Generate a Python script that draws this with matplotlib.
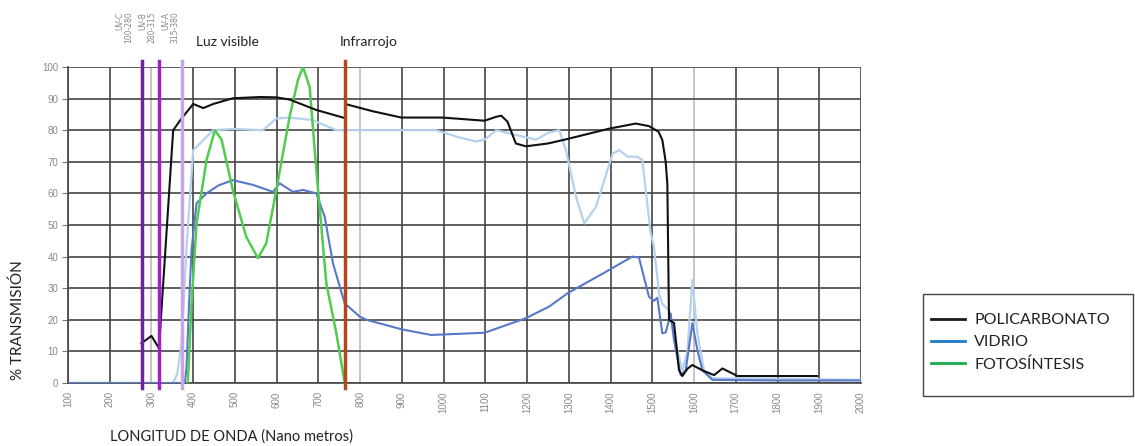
import matplotlib
matplotlib.use('Agg')
import matplotlib.pyplot as plt
from matplotlib.lines import Line2D
from matplotlib.patches import Rectangle
import numpy as np

# datos (nm, % transmisión)
poli_nm_a = [276, 300, 318, 352, 372, 400, 424, 448, 495, 560, 599, 631, 695, 759]
poli_pc_a = [12.6, 14.9, 11, 80, 83.7, 88.3, 87, 88.3, 90.1, 90.5, 90.4, 89.7, 86.4, 84]
poli_nm_b = [767, 830, 899, 997, 1098, 1125, 1138, 1153, 1173, 1197, 1250, 1293, 1397, 1460, 1492,
             1515, 1524, 1532, 1536, 1540, 1552, 1564, 1572, 1584, 1596, 1620, 1648, 1668, 1704, 1800, 1895]
poli_pc_b = [88.2, 86, 84, 84, 83, 84.2, 84.6, 82.7, 75.8, 74.9, 75.8, 77.1, 80.5, 82.1, 81.3,
             79.5, 76.9, 70, 63, 20, 19, 4, 2.2, 4.5, 5.7, 4, 2.5, 4.6, 2.2, 2.2, 2.2]

vidrio_nm = [100, 380, 384, 390, 396, 408, 432, 460, 495, 543, 591, 607, 639, 663, 695, 715, 735, 763, 799, 815,
             899, 970, 1098, 1197, 1253, 1297, 1397, 1452, 1468, 1492, 1504, 1512, 1524, 1532, 1544, 1552,
             1568, 1580, 1596, 1608, 1620, 1644, 1800, 2000]
vidrio_pc = [0, 0, 5, 25, 42, 56.9, 60, 62.5, 64.2, 62.7, 60.5, 63.2, 60.5, 61.1, 60, 52.6, 37.8, 25.2, 21, 20,
             17, 15.2, 15.9, 20.5, 24.2, 28.4, 35.8, 40, 39.7, 27.3, 26, 27, 15.7, 16, 22, 13.6,
             2.5, 4, 18.9, 10.4, 4, 1, 0.8, 0.8]

vidrio2_nm = [100, 352, 362, 372, 385, 400, 416, 448, 495, 567, 599, 631, 686, 743, 866, 982, 1038, 1078, 1098,
              1126, 1173, 1221, 1253, 1277, 1293, 1317, 1337, 1365, 1405, 1421, 1441, 1464, 1476, 1496, 1504,
              1516, 1524, 1540, 1556, 1572, 1584, 1596, 1608, 1624, 1644, 2000]
vidrio2_pc = [0, 0, 3, 12.5, 45, 73.7, 75.8, 80, 80.4, 80, 83.7, 84, 83.2, 80, 80, 80, 77.7, 76.4, 77,
              80, 78.5, 77, 79.3, 80, 73.7, 59, 50.5, 55.8, 72.6, 73.7, 71.6, 71.6, 70.6, 47.4, 43.2,
              28.4, 25, 23, 12.5, 4, 10, 32.6, 15.7, 4, 1.5, 1]

foto_nm = [387, 396, 408, 432, 452, 468, 495, 527, 555, 575, 599, 631, 651, 663, 679, 695, 719, 743, 763]
foto_pc = [0, 25, 50.5, 70.6, 80, 77, 61, 46.3, 39.5, 44.2, 61, 84.3, 95.9, 100, 93.7, 67.4, 31.5, 15.7, 0]

bandas_nm = [278, 317, 374, 763]
bandas_col = ['#6f1fa0', '#a21fc8', '#c8a6e6', '#b4461c']
uv_textos = ['UV-C\n100-280', 'UV-B\n280-315', 'UV-A\n315-380']
uv_nm = [234, 291, 346]

series_nombres = ['POLICARBONATO', 'VIDRIO', 'FOTOSÍNTESIS']
series_col_leyenda = ['#1a1a1a', '#1f7bc8', '#1aaa4a']

fuente = {'family': 'Lato', 'color': '#222222'}

fig = plt.figure(figsize=(11.35, 4.46), dpi=100)
ax = fig.add_axes([68 / 1135, 1 - 383 / 446, (861 - 68) / 1135, (383 - 67) / 446])
ax.set_xlim(100, 2000)
ax.set_ylim(0, 100)

xt = np.arange(100, 2001, 100)
ax.set_xticks(xt)
ax.set_xticklabels([str(v) for v in xt], rotation=90, fontsize=7, color='#888888',
                   family='Liberation Sans')
ax.set_yticks(np.arange(0, 101, 10))
ax.set_yticklabels([str(v) for v in range(0, 101, 10)], fontsize=7, color='#888888',
                   family='Liberation Sans')
ax.tick_params(axis='x', length=0, pad=6)
ax.tick_params(axis='y', length=4, color='#777777', pad=3)

# rejilla
ax.grid(axis='y', color='#444444', linewidth=1.2, zorder=0)
for v in xt:
    c = '#bbbbbb' if v in (300, 800, 1600) else '#444444'
    ax.axvline(v, color=c, linewidth=1.2, zorder=0)
for s in ['top', 'right']:
    ax.spines[s].set_visible(False)
ax.spines['left'].set_color('#444444')
ax.spines['bottom'].set_color('#444444')
ax.spines['left'].set_linewidth(1.2)
ax.spines['bottom'].set_linewidth(1.2)

# curvas
ax.plot(vidrio2_nm, vidrio2_pc, color='#b4d2ee', linewidth=1.6, zorder=3)
ax.plot(vidrio_nm, vidrio_pc, color='#5878c8', linewidth=1.5, zorder=4)
ax.plot(foto_nm, foto_pc, color='#50cc50', linewidth=1.8, zorder=5)
ax.plot(poli_nm_a, poli_pc_a, color='#111111', linewidth=1.5, zorder=6)
ax.plot(poli_nm_b, poli_pc_b, color='#111111', linewidth=1.5, zorder=6)

# bandas espectrales
for x, c in zip(bandas_nm, bandas_col):
    ax.axvline(x, ymin=-0.015, ymax=1.02, color=c, linewidth=2.5, clip_on=False, zorder=7)

for x, t in zip(uv_nm, uv_textos):
    ax.text(x, 117.5, t, rotation=90, ha='center', va='top', multialignment='right',
            fontsize=5.5, color='#888888', linespacing=1.0, clip_on=False)
ax.text(406, 108, 'Luz visible', fontsize=10, va='center', clip_on=False, **fuente)
ax.text(751, 108, 'Infrarrojo', fontsize=10, va='center', clip_on=False, **fuente)

fig.text(18 / 1135, 1 - 320 / 446, '% TRANSMISIÓN', rotation=90, ha='center', va='center',
         fontsize=11, **fuente)
fig.text(110 / 1135, 1 - 437 / 446, 'LONGITUD DE ONDA (Nano metros)', ha='left', va='center',
         fontsize=10.5, **fuente)

# leyenda
fig.patches.append(Rectangle((923 / 1135, 1 - 396 / 446), 210 / 1135, 102 / 446,
                             transform=fig.transFigure, facecolor='white',
                             edgecolor='#444444', linewidth=1.0))
handles = [Line2D([], [], color=c, linewidth=2) for c in series_col_leyenda]
leg = fig.legend(handles, series_nombres,
                 loc='upper left', bbox_to_anchor=(931 / 1135, 1 - 313 / 446),
                 frameon=False, prop={'family': 'Lato', 'size': 11.5},
                 handlelength=2.1, handletextpad=0.6, labelspacing=0.5,
                 borderpad=0, borderaxespad=0)
for t in leg.get_texts():
    t.set_color('#222222')

fig.savefig('out.png', dpi=100)
